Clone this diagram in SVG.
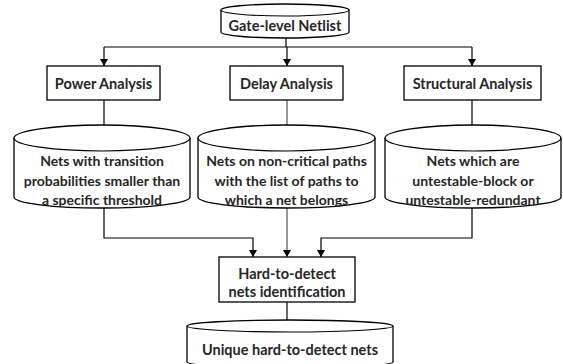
<svg xmlns="http://www.w3.org/2000/svg" width="563" height="364" viewBox="0 0 563 364">
<style>
.s{fill:#fff;stroke:#000;stroke-width:1.3}
.t{font-family:Lato,"Liberation Sans",sans-serif;font-weight:bold;font-size:14.5px;fill:#262626;text-anchor:middle;dominant-baseline:central}
.d{font-size:14px}
.c{fill:none;stroke:#000;stroke-width:1.2}
.g{stroke:#555}
</style>
<defs>
<marker id="a" markerWidth="7" markerHeight="8" refX="7" refY="4" orient="auto" markerUnits="userSpaceOnUse">
<path d="M0,0 L7,4 L0,8 Z" fill="#000"/>
</marker>
</defs>
<rect width="563" height="364" fill="#fff"/>
<g id="connectors">
<path class="c" d="M286,37 V47"/>
<path class="c" d="M104,47 H472"/>
<path class="c" d="M104,47 V66" marker-end="url(#a)"/>
<path class="c" d="M287,47 V66" marker-end="url(#a)"/>
<path class="c" d="M472,47 V66" marker-end="url(#a)"/>
<path class="c" d="M104,100 V135" marker-end="url(#a)"/>
<path class="c g" d="M287,100 V135" marker-end="url(#a)"/>
<path class="c" d="M472,100 V135" marker-end="url(#a)"/>
<path class="c" d="M104,208 V238 H253 V257" marker-end="url(#a)"/>
<path class="c g" d="M287,208 V257" marker-end="url(#a)"/>
<path class="c" d="M472,208 V238 H321 V257" marker-end="url(#a)"/>
<path class="c" d="M287,302 V331" marker-end="url(#a)"/>
</g>
<g id="netlist">
<path class="s" d="M221,10 A64,6 0 0 1 349,10 V32 A64,6 0 0 1 221,32 Z"/>
<path class="c" d="M221,10 A64,6 0 0 0 349,10"/>
<text class="t" x="285" y="25">Gate-level Netlist</text>
</g>
<g id="power">
<rect class="s" x="47" y="66" width="113" height="34"/>
<text class="t" x="103.5" y="83">Power Analysis</text>
</g>
<g id="delay">
<rect class="s" x="230" y="66" width="113" height="34"/>
<text class="t" x="286.5" y="83">Delay Analysis</text>
</g>
<g id="structural">
<rect class="s" x="404" y="66" width="137" height="34"/>
<text class="t" x="472.5" y="83">Structural Analysis</text>
</g>
<g id="db-power">
<path class="s" d="M14,138 A88,13 0 0 1 190,138 V197 A88,11 0 0 1 14,197 Z"/>
<path class="c" d="M14,138 A88,13 0 0 0 190,138"/>
<text class="t d" x="102" y="160">Nets with transition</text>
<text class="t d" x="102" y="180">probabilities smaller than</text>
<text class="t d" x="102" y="199">a specific threshold</text>
</g>
<g id="db-delay">
<path class="s" d="M198,138 A88.5,13 0 0 1 375,138 V197 A88.5,11 0 0 1 198,197 Z"/>
<path class="c" d="M198,138 A88.5,13 0 0 0 375,138"/>
<text class="t d" x="286.5" y="160">Nets on non-critical paths</text>
<text class="t d" x="286.5" y="180">with the list of paths to</text>
<text class="t d" x="286.5" y="199">which a net belongs</text>
</g>
<g id="db-structural">
<path class="s" d="M385,138 A88,13 0 0 1 561,138 V197 A88,11 0 0 1 385,197 Z"/>
<path class="c" d="M385,138 A88,13 0 0 0 561,138"/>
<text class="t d" x="473" y="160">Nets which are</text>
<text class="t d" x="473" y="180">untestable-block or</text>
<text class="t d" x="473" y="199">untestable-redundant</text>
</g>
<g id="identification">
<rect class="s" x="219" y="257" width="136" height="45"/>
<text class="t" x="287" y="273">Hard-to-detect</text>
<text class="t" x="287" y="291">nets identification</text>
</g>
<g id="unique">
<path class="s" d="M187,326 A103,6 0 0 1 393,326 V362 A103,6 0 0 1 187,362 Z"/>
<path class="c" d="M187,326 A103,6 0 0 0 393,326"/>
<text class="t" x="290" y="349">Unique hard-to-detect nets</text>
</g>
</svg>
